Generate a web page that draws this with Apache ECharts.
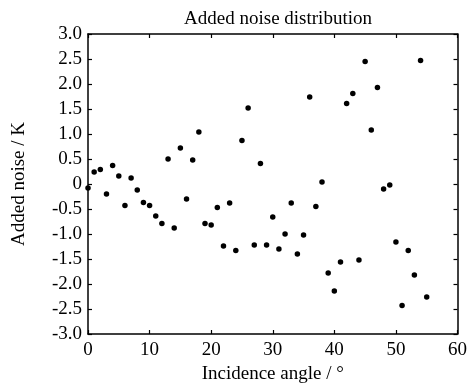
<!DOCTYPE html>
<html><head><meta charset="utf-8">
<script src="https://cdn.jsdelivr.net/npm/echarts@6/dist/echarts.min.js"></script>
<style>html,body{margin:0;padding:0;background:#fff}#c{width:470px;height:389px}</style>
</head><body><div id="c"></div>
<script>
const angles = [];
for (let i = 0; i <= 55; i++) angles.push(i);
const noise = [-0.08,0.24,0.29,-0.20,0.37,0.16,-0.43,0.12,-0.12,-0.37,
  -0.43,-0.64,-0.79,0.50,-0.88,0.72,-0.30,0.48,1.04,-0.79,
  -0.82,-0.47,-1.24,-0.38,-1.33,0.87,1.52,-1.22,0.41,-1.22,
  -0.66,-1.30,-1.00,-0.38,-1.40,-1.02,1.74,-0.45,0.04,-1.78,
  -2.14,-1.56,1.61,1.81,-1.52,2.45,1.08,1.93,-0.10,-0.02,
  -1.16,-2.43,-1.33,-1.82,2.47,-2.26];
const titleText = 'Added noise distribution';
const xName = 'Incidence angle / °';
const yName = 'Added noise / K';

const font = 'Liberation Serif';
const axisLine = {show:true, onZero:false, lineStyle:{color:'#000', width:1.5}};
const tick = {show:true, inside:true, length:4, lineStyle:{color:'#000', width:1.2}};
const chart = echarts.init(document.getElementById('c'));
chart.setOption({
  animation:false,
  title:{text:titleText, left:273, textAlign:'center', top:5, textStyle:{fontFamily:font, fontSize:19, fontWeight:'normal', color:'#000'}},
  grid:{left:88, right:11, top:34, bottom:51.5},
  xAxis:[
    {type:'value', min:0, max:60, interval:10, position:'bottom',
     name:xName, nameLocation:'middle', nameGap:31,
     nameTextStyle:{fontFamily:font, fontSize:19, color:'#000'},
     axisLine:axisLine, axisTick:tick, splitLine:{show:false},
     axisLabel:{fontFamily:font, fontSize:19, color:'#000', margin:7}},
    {type:'value', min:0, max:60, interval:10, position:'top',
     axisLine:axisLine, axisTick:tick, splitLine:{show:false}, axisLabel:{show:false}}
  ],
  yAxis:[
    {type:'value', min:-3, max:3, interval:0.5, position:'left',
     name:yName, nameLocation:'middle', nameGap:59, nameRotate:90,
     nameTextStyle:{fontFamily:font, fontSize:19, color:'#000'},
     axisLine:axisLine, axisTick:tick, splitLine:{show:false},
     axisLabel:{fontFamily:font, fontSize:19, color:'#000', margin:6,
       formatter:v => v === 0 ? '0' : v.toFixed(1)}},
    {type:'value', min:-3, max:3, interval:0.5, position:'right',
     axisLine:axisLine, axisTick:tick, splitLine:{show:false}, axisLabel:{show:false}}
  ],
  series:[{type:'scatter', data:angles.map((a,i)=>[a, noise[i]]),
    symbol:'circle', symbolSize:5.5, itemStyle:{color:'#000', opacity:1}}]
});
</script></body></html>
